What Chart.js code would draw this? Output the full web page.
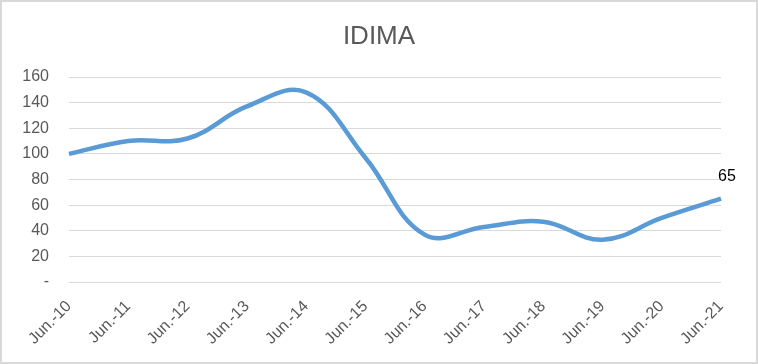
<!DOCTYPE html>
<html lang="en">
<head>
  <meta charset="UTF-8" />
  <title>IDIMA</title>
  <script src="https://cdn.jsdelivr.net/npm/chart.js"></script>
  <style>
    html, body { margin: 0; padding: 0; background: #fff; }
    #wrap { width: 758px; height: 364px; position: relative; }
  </style>
</head>
<body>
<div id="wrap"><canvas id="chartIdima"></canvas></div>

<script>
  const labels = ['Jun.-10', 'Jun.-11', 'Jun.-12', 'Jun.-13', 'Jun.-14', 'Jun.-15',
                  'Jun.-16', 'Jun.-17', 'Jun.-18', 'Jun.-19', 'Jun.-20', 'Jun.-21'];
  const idimaData = [100, 110, 112, 137, 148, 97, 37, 43, 47, 33, 50, 65];
  const yTicks = [0, 20, 40, 60, 80, 100, 120, 140, 160];
  const titleText = 'IDIMA';

  const FONT = "'Liberation Sans', Arial, sans-serif";

  // marco gris + titulo centrado en todo el lienzo
  const frame = {
    id: 'frame',
    afterDraw(chart) {
      const ctx = chart.ctx;
      ctx.save();
      ctx.strokeStyle = '#d9d9d9';
      ctx.lineWidth = 2;
      ctx.strokeRect(1, 1, chart.width - 2, chart.height - 2);
      ctx.font = '26px ' + FONT;
      ctx.fillStyle = '#595959';
      ctx.textAlign = 'center';
      ctx.textBaseline = 'middle';
      ctx.fillText(titleText, chart.width / 2, 37);
      ctx.restore();
    }
  };

  // etiqueta del ultimo valor
  const lastLabel = {
    id: 'lastLabel',
    afterDatasetsDraw(chart) {
      const meta = chart.getDatasetMeta(0);
      const i = idimaData.length - 1;
      const pt = meta.data[i];
      const ctx = chart.ctx;
      ctx.save();
      ctx.font = '16px ' + FONT;
      ctx.fillStyle = '#000';
      ctx.textAlign = 'center';
      ctx.textBaseline = 'middle';
      ctx.fillText(String(idimaData[i]), pt.x + 6, pt.y - 22);
      ctx.restore();
    }
  };

  new Chart(document.getElementById('chartIdima'), {
    type: 'line',
    data: {
      labels: labels,
      datasets: [{
        label: titleText,
        data: idimaData,
        borderColor: '#5b9bd5',
        borderWidth: 4.5,
        pointRadius: 0,
        tension: 0.4,
        fill: false
      }]
    },
    options: {
      responsive: true,
      maintainAspectRatio: false,
      animation: false,
      layout: { padding: { left: 0, right: 37, top: 77, bottom: 0 } },
      plugins: {
        legend: { display: false },
        tooltip: { enabled: false },
        title: { display: false }
      },
      scales: {
        x: {
          offset: false,
          grid: { display: false, drawTicks: false },
          border: { display: false },
          ticks: {
            color: '#595959',
            font: { family: FONT, size: 16 },
            minRotation: 45,
            maxRotation: 45,
            autoSkip: false,
            padding: 15
          },
          afterFit(scale) { scale.height = 82; }
        },
        y: {
          min: 0,
          max: 160,
          afterBuildTicks(scale) { scale.ticks = yTicks.map(v => ({ value: v })); },
          grid: { color: '#d9d9d9', lineWidth: 1, drawTicks: false },
          border: { display: false },
          ticks: {
            color: '#595959',
            font: { family: FONT, size: 16 },
            padding: 20,
            callback: v => v === 0 ? '-' : v
          },
          afterFit(scale) { scale.width = 69; }
        }
      }
    },
    plugins: [frame, lastLabel]
  });
</script>
</body>
</html>
